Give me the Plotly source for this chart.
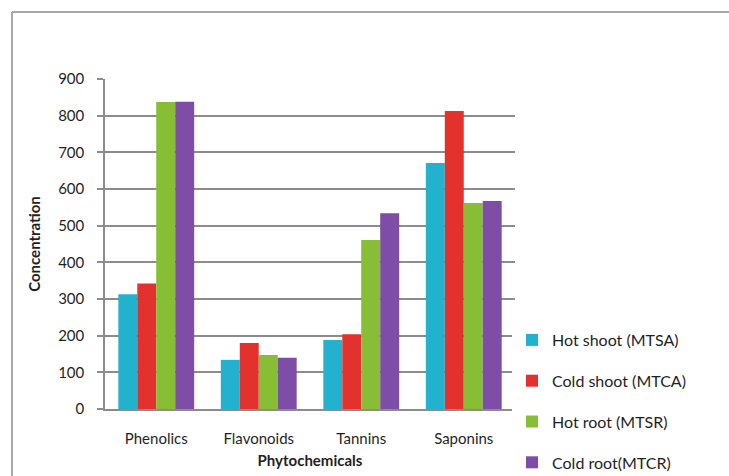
import plotly.graph_objects as go

categories = ["Phenolics", "Flavonoids", "Tannins", "Saponins"]
series_names = ["Hot shoot (MTSA)", "Cold shoot (MTCA)", "Hot root (MTSR)", "Cold root(MTCR)"]
hot_shoot = [313, 134, 188, 671]
cold_shoot = [342, 180, 204, 813]
hot_root = [837, 147, 461, 562]
cold_root = [838, 140, 534, 567]
y_ticks = [0, 100, 200, 300, 400, 500, 600, 700, 800, 900]

colors = ["#22B2CE", "#E3312E", "#88BE35", "#7E4EA6"]
values = [hot_shoot, cold_shoot, hot_root, cold_root]

W, H = 729, 476
L, R, T, B = 105, 214, 79, 67
pw, ph = W - L - R, H - T - B

fig = go.Figure()
for i, (name, vals) in enumerate(zip(series_names, values)):
    fig.add_trace(go.Bar(
        x=categories, y=vals, name=name,
        marker=dict(color=colors[i], line=dict(width=0)),
        legendgroup=f"g{i}",
    ))

font = "Lato, 'Open Sans', sans-serif"

def px_x(x):
    return (x - L) / pw

def px_y(y):
    return 1 - (y - T) / ph

fig.update_layout(
    width=W, height=H,
    margin=dict(l=L, r=R, t=T, b=B, autoexpand=False),
    paper_bgcolor="white", plot_bgcolor="white",
    barmode="group", bargap=0.26, bargroupgap=0.0,
    font=dict(family=font, size=15, color="#1f1f1f"),
    showlegend=True,
    legend=dict(
        x=px_x(512), y=px_y(323), xanchor="left", yanchor="top",
        traceorder="grouped", tracegroupgap=17,
        font=dict(size=16, color="#1f1f1f"),
        itemwidth=30,
    ),
    shapes=[
        dict(type="line", xref="paper", yref="paper",
             x0=px_x(12), x1=px_x(12), y0=px_y(12), y1=px_y(480),
             line=dict(color="#A6A6A6", width=2)),
        dict(type="line", xref="paper", yref="paper",
             x0=px_x(12), x1=px_x(735), y0=px_y(12), y1=px_y(12),
             line=dict(color="#A6A6A6", width=2)),
    ],
)

fig.update_xaxes(
    automargin=False,
    showline=True, linecolor="#8C8C8C", linewidth=1.5,
    ticks="", ticklabelstandoff=15,
    title=dict(text="<b>Phytochemicals</b>", standoff=10, font=dict(size=15)),
    tickfont=dict(size=15),
)
fig.update_yaxes(
    automargin=False,
    range=[0, 900], tickvals=y_ticks,
    showgrid=True, gridcolor="#8C8C8C", gridwidth=1.5,
    showline=True, linecolor="#8C8C8C", linewidth=1.5,
    ticks="outside", ticklen=6, tickcolor="#8C8C8C", tickwidth=1.5,
    ticklabelstandoff=10, zeroline=False,
    title=dict(text="<b>Concentration</b>", standoff=14, font=dict(size=15)),
    tickfont=dict(size=15),
)

fig.write_html("out.html")
